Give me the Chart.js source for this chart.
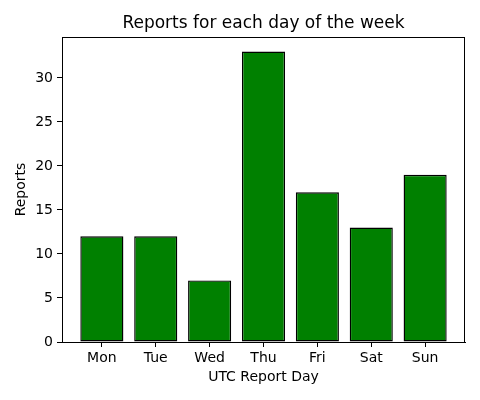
<!DOCTYPE html>
<html>
<head>
<meta charset="utf-8">
<script src="https://cdn.jsdelivr.net/npm/chart.js@4.4.0/dist/chart.umd.min.js"></script>
<style>
  html, body { margin: 0; padding: 0; background: #fff; }
  #chart { display: block; }
</style>
</head>
<body>
<canvas id="chart" width="480" height="400"></canvas>
<script>
// Chart data
const days = ['Mon', 'Tue', 'Wed', 'Thu', 'Fri', 'Sat', 'Sun'];
const reports = [12, 12, 7, 33, 17, 13, 19];
const yTicks = [0, 5, 10, 15, 20, 25, 30];
const chartTitle = 'Reports for each day of the week';

const font = 'DejaVu Sans';

// matplotlib-like margins: 5% around bars of width 0.8
const xMin = -0.4 - 0.05 * 6.8;
const xMax = 6.4 + 0.05 * 6.8;
const yMax = Math.max(...reports) * 1.05;

// Black frame round the plot area, and the title centred over it
const framePlugin = {
    id: 'frame',
    afterDatasetsDraw(chart) {
        const { ctx, chartArea: a } = chart;
        ctx.save();
        ctx.strokeStyle = '#000';
        ctx.lineWidth = 1;
        ctx.strokeRect(a.left + 0.5, a.top + 0.5, a.right - a.left - 1, a.bottom - a.top);
        ctx.fillStyle = '#000';
        ctx.font = '17px "' + font + '"';
        ctx.textAlign = 'center';
        ctx.textBaseline = 'middle';
        ctx.fillText(chartTitle, (a.left + a.right) / 2, 24);
        ctx.restore();
    }
};

function initChart() {
    const ctx = document.getElementById('chart').getContext('2d');
    new Chart(ctx, {
        type: 'bar',
        data: {
            datasets: [{
                data: reports.map((v, i) => ({ x: i, y: v })),
                backgroundColor: '#008000',
                borderColor: '#000',
                borderWidth: 1.4,
                borderSkipped: false,
                barPercentage: 0.8,
                categoryPercentage: 1.0
            }]
        },
        plugins: [framePlugin],
        options: {
            responsive: false,
            devicePixelRatio: 1,
            animation: false,
            layout: { padding: { left: 0, right: 15, top: 37, bottom: 0 } },
            plugins: {
                legend: { display: false },
                tooltip: { enabled: false },
                title: { display: false }
            },
            scales: {
                x: {
                    type: 'linear',
                    min: xMin,
                    max: xMax,
                    offset: false,
                    afterBuildTicks(scale) {
                        scale.ticks = days.map((d, i) => ({ value: i }));
                    },
                    afterFit(scale) { scale.height = 58; },
                    ticks: {
                        color: '#000',
                        font: { family: font, size: 14 },
                        padding: 3,
                        callback: (v) => days[v]
                    },
                    grid: {
                        display: true,
                        offset: false,
                        drawOnChartArea: false,
                        drawTicks: true,
                        tickLength: 5,
                        color: '#000'
                    },
                    border: { display: true, color: '#000' },
                    title: {
                        display: true,
                        text: 'UTC Report Day',
                        color: '#000',
                        font: { family: font, size: 14 },
                        padding: { top: 0, bottom: 14 }
                    }
                },
                y: {
                    min: 0,
                    max: yMax,
                    afterBuildTicks(scale) {
                        scale.ticks = yTicks.map(v => ({ value: v }));
                    },
                    afterFit(scale) { scale.width = 62; },
                    ticks: {
                        color: '#000',
                        font: { family: font, size: 14 },
                        padding: 4
                    },
                    grid: {
                        display: true,
                        drawOnChartArea: false,
                        drawTicks: true,
                        tickLength: 5,
                        color: '#000'
                    },
                    border: { display: true, color: '#000' },
                    title: {
                        display: true,
                        text: 'Reports',
                        color: '#000',
                        font: { family: font, size: 14 },
                        padding: { top: 13, bottom: 0 }
                    }
                }
            }
        }
    });
}

document.addEventListener('DOMContentLoaded', initChart);
</script>
</body>
</html>
